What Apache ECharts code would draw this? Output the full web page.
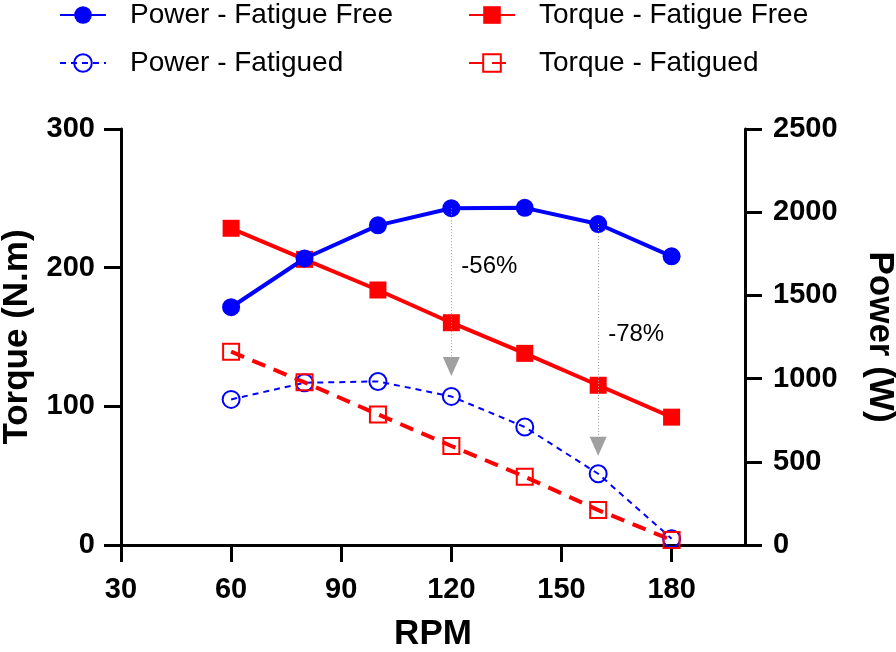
<!DOCTYPE html>
<html>
<head>
<meta charset="utf-8">
<script src="https://cdn.jsdelivr.net/npm/echarts@6/dist/echarts.min.js"></script>
<style>
html,body{margin:0;padding:0;background:#fff;}
#chart{width:896px;height:652px;}
</style>
</head>
<body>
<div id="chart"></div>
<script>
// ---- Data ----
const rpm = [60, 80, 100, 120, 140, 160, 180];
const powerFatigueFree = [1429, 1722, 1921, 2024, 2026, 1929, 1735];
const torqueFatigueFree = [228.4, 206.0, 183.9, 160.3, 138.2, 115.2, 92.2];
const powerFatigued = [875, 975, 983, 893, 709, 428, 38];
const torqueFatigued = [139.4, 117.3, 94.2, 71.4, 49.3, 25.2, 3.6];

const xTicks = [30, 60, 90, 120, 150, 180];
const torqueTicks = [0, 100, 200, 300];
const powerTicks = [0, 500, 1000, 1500, 2000, 2500];

// annotations: drop arrows from fatigue-free power to fatigued power
const annotRpm = [120, 160];
const annotStart = [2024, 1929];     // power value where dotted line starts
const annotArrowEnd = [1073, 594];   // power value at arrow head centre
const annotText = ['-56%', '-78%'];
const annotTextY = [1673, 1265];     // power value of label centre

const seriesNames = ['Power - Fatigue Free', 'Torque - Fatigue Free', 'Power - Fatigued', 'Torque - Fatigued'];

const pairs = (ys) => rpm.map((x, i) => [x, ys[i]]);
const FONT = 'Liberation Sans, Arial, Helvetica, sans-serif';
const BLUE = '#0000ff', RED = '#ff0000', GRAY = '#a0a0a0';

const axisCommon = {
  axisLine: { show: true, lineStyle: { color: '#000', width: 3 } },
  axisTick: { show: true, inside: false, length: 17, lineStyle: { color: '#000', width: 3 } },
  splitLine: { show: false },
  axisLabel: { color: '#000', fontFamily: FONT, fontWeight: 'bold', fontSize: 29, formatter: (v) => String(v) },
  nameTextStyle: { color: '#000', fontFamily: FONT, fontWeight: 'bold', fontSize: 35 },
  nameLocation: 'middle'
};

const chart = echarts.init(document.getElementById('chart'), null, { renderer: 'canvas' });

const legendBase = {
  orient: 'horizontal',
  padding: 0,
  itemWidth: 46,
  itemHeight: 22,
  textStyle: { color: '#000', fontFamily: FONT, fontSize: 28, padding: [0, 0, 0, 19] },
  selectedMode: false
};

const option = {
  animation: false,
  backgroundColor: '#fff',
  legend: [
    Object.assign({}, legendBase, { data: [seriesNames[0]], left: 59, top: 1 }),
    Object.assign({}, legendBase, { data: [seriesNames[1]], left: 468, top: 1 }),
    Object.assign({}, legendBase, { data: [seriesNames[2]], left: 59, top: 49 }),
    Object.assign({}, legendBase, { data: [seriesNames[3]], left: 468, top: 49 })
  ],
  grid: { left: 121, right: 151, top: 129, bottom: 107, containLabel: false, outerBoundsMode: 'none' },
  xAxis: Object.assign({}, axisCommon, {
    type: 'value', min: 30, max: 200, interval: 30,
    name: 'RPM', nameGap: 72,
    axisTick: Object.assign({}, axisCommon.axisTick, { customValues: xTicks }),
    axisLabel: Object.assign({}, axisCommon.axisLabel, { margin: 30, customValues: xTicks })
  }),
  yAxis: [
    Object.assign({}, axisCommon, {
      type: 'value', min: 0, max: 300, interval: 100, position: 'left',
      name: 'Torque (N.m)', nameGap: 86,
      axisTick: Object.assign({}, axisCommon.axisTick, { customValues: torqueTicks }),
      axisLabel: Object.assign({}, axisCommon.axisLabel, { margin: 26, customValues: torqueTicks })
    }),
    Object.assign({}, axisCommon, {
      type: 'value', min: 0, max: 2500, interval: 500, position: 'right',
      name: 'Power (W)', nameGap: 117, nameRotate: -90,
      axisTick: Object.assign({}, axisCommon.axisTick, { customValues: powerTicks }),
      axisLabel: Object.assign({}, axisCommon.axisLabel, { margin: 28, customValues: powerTicks })
    })
  ],
  series: [
    {
      name: seriesNames[2], type: 'line', yAxisIndex: 1, data: pairs(powerFatigued),
      symbol: 'circle', symbolSize: 17, z: 2,
      itemStyle: { color: 'rgba(255,255,255,0)', borderColor: BLUE, borderWidth: 2 },
      lineStyle: { color: BLUE, width: 2, type: [6, 5] }
    },
    {
      name: seriesNames[3], type: 'line', yAxisIndex: 0, data: pairs(torqueFatigued),
      symbol: 'rect', symbolSize: 16, z: 2,
      itemStyle: { color: 'rgba(255,255,255,0)', borderColor: RED, borderWidth: 2 },
      lineStyle: { color: RED, width: 4, type: [14, 9] }
    },
    {
      name: seriesNames[1], type: 'line', yAxisIndex: 0, data: pairs(torqueFatigueFree),
      symbol: 'rect', symbolSize: 17, z: 3,
      itemStyle: { color: RED },
      lineStyle: { color: RED, width: 4 }
    },
    {
      name: seriesNames[0], type: 'line', yAxisIndex: 1, data: pairs(powerFatigueFree),
      symbol: 'circle', symbolSize: 18, z: 4,
      itemStyle: { color: BLUE },
      lineStyle: { color: BLUE, width: 4 },
      markLine: {
        silent: true, animation: false,
        symbol: ['none', 'triangle'], symbolSize: [17, 19],
        lineStyle: { color: GRAY, width: 1, type: [1, 2] },
        itemStyle: { color: GRAY },
        label: { show: false },
        data: annotRpm.map((x, i) => [
          { coord: [x, annotStart[i]], symbol: 'none' },
          { coord: [x, annotArrowEnd[i]], symbol: 'triangle' }
        ])
      },
      markPoint: {
        silent: true, animation: false,
        symbol: 'circle', symbolSize: 0,
        label: { show: true, position: 'right', distance: 10, color: '#000', fontFamily: FONT, fontSize: 24 },
        data: annotRpm.map((x, i) => ({ coord: [x, annotTextY[i]], label: { formatter: annotText[i] } }))
      }
    }
  ]
};
chart.setOption(option);
</script>
</body>
</html>
